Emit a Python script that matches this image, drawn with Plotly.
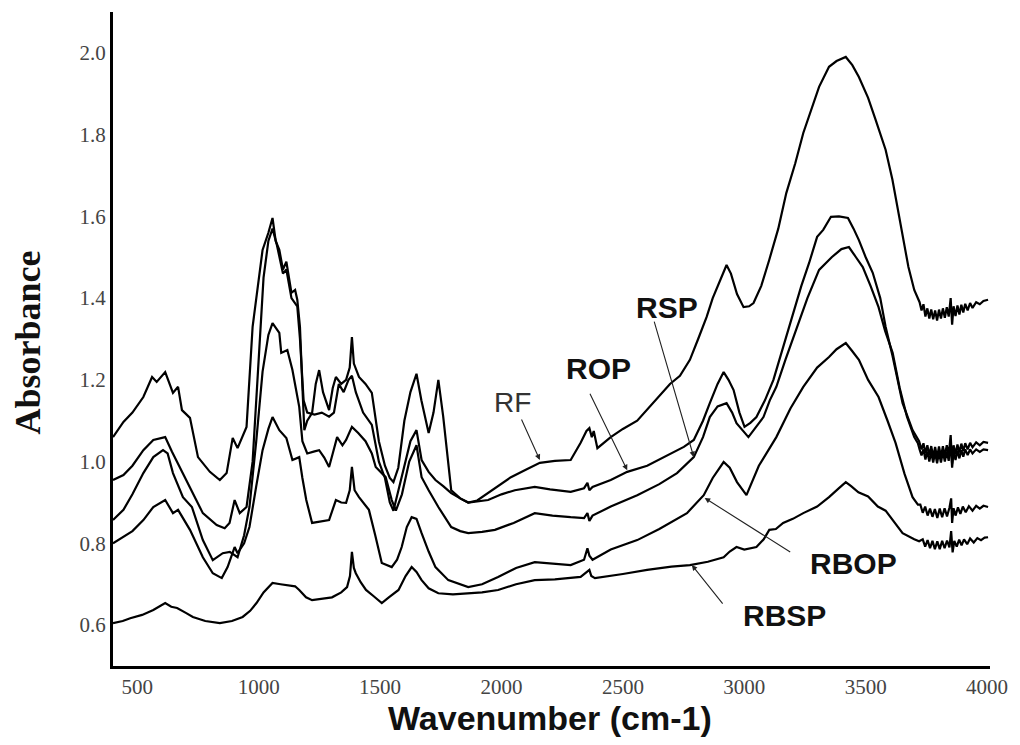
import plotly.graph_objects as go

# ---------------- data ----------------
rf_x = [400, 443, 480, 525, 561, 580, 615, 647, 668, 684, 717, 750, 799, 840, 868, 893, 913, 950, 975, 1000,
        1016, 1040, 1057, 1070, 1085, 1100, 1114, 1135, 1150, 1159, 1170, 1180, 1188, 1200, 1220, 1235, 1249,
        1265, 1290, 1305, 1318, 1340, 1360, 1375, 1384, 1392, 1413, 1440, 1466, 1495, 1520, 1540, 1555, 1575,
        1600, 1625, 1650, 1670, 1700, 1720, 1740, 1760, 1793, 1830, 1863, 1900, 1945, 2000, 2039, 2100, 2158,
        2220, 2285, 2326, 2350, 2362, 2372, 2380, 2395, 2450, 2500, 2559, 2620, 2694, 2735, 2776, 2810, 2845,
        2870, 2895, 2927, 2945, 2970, 2997, 3020, 3038, 3070, 3103, 3140, 3173, 3210, 3243, 3275, 3308, 3349,
        3380, 3418, 3445, 3472, 3510, 3541, 3582, 3610, 3635, 3655, 3676, 3700, 3717,
        3722, 3730, 3738, 3746, 3754, 3762, 3770, 3778, 3786, 3794, 3802, 3810, 3818, 3826, 3834, 3842, 3850,
        3856, 3862, 3870, 3878, 3886, 3894, 3902, 3910, 3920, 3930, 3940, 3955, 3970, 3985, 4004]
rf_y = [1.060, 1.097, 1.120, 1.158, 1.207, 1.195, 1.219, 1.168, 1.183, 1.126, 1.107, 1.011, 0.975, 0.955, 0.972,
        1.058, 1.033, 1.085, 1.330, 1.450, 1.518, 1.560, 1.596, 1.540, 1.518, 1.470, 1.489, 1.413, 1.420, 1.396,
        1.330, 1.183, 1.077, 1.100, 1.119, 1.190, 1.224, 1.170, 1.126, 1.180, 1.207, 1.190, 1.200, 1.230, 1.305,
        1.240, 1.207, 1.190, 1.168, 1.050, 0.990, 0.960, 0.950, 0.985, 1.100, 1.170, 1.215, 1.150, 1.070, 1.120,
        1.200, 1.110, 0.930, 0.910, 0.900, 0.905, 0.923, 0.945, 0.962, 0.980, 0.997, 1.002, 1.004, 1.046, 1.075,
        1.082, 1.060, 1.075, 1.033, 1.060, 1.080, 1.100, 1.140, 1.190, 1.210, 1.249, 1.300, 1.354, 1.400, 1.437,
        1.481, 1.460, 1.410, 1.378, 1.380, 1.388, 1.430, 1.494, 1.570, 1.657, 1.730, 1.804, 1.860, 1.917, 1.966,
        1.980, 1.990, 1.970, 1.941, 1.890, 1.836, 1.763, 1.690, 1.609, 1.540, 1.476, 1.420, 1.396,
        1.390, 1.370, 1.385, 1.355, 1.375, 1.350, 1.372, 1.348, 1.370, 1.345, 1.372, 1.350, 1.375, 1.352, 1.378,
        1.355, 1.400, 1.335, 1.380, 1.356, 1.382, 1.360, 1.384, 1.365, 1.386, 1.370, 1.388, 1.376, 1.390, 1.385,
        1.393, 1.396]

rop_x = [400, 443, 480, 525, 566, 615, 643, 676, 717, 770, 827, 860, 880, 901, 922, 950, 975, 1000, 1020, 1040,
         1057, 1075, 1100, 1114, 1135, 1159, 1170, 1185, 1200, 1230, 1260, 1290, 1310, 1330, 1350, 1370, 1384,
         1400, 1430, 1466, 1495, 1520, 1540, 1555, 1575, 1600, 1625, 1650, 1671, 1700, 1728, 1760, 1793, 1830,
         1863, 1945, 2000, 2055, 2137, 2200, 2285, 2340, 2354, 2362, 2375, 2450, 2518, 2600, 2680, 2751, 2792,
         2830, 2858, 2890, 2915, 2935, 2956, 2980, 3001, 3025, 3050, 3085, 3120, 3160, 3202, 3235, 3267, 3300,
         3325, 3357, 3390, 3427, 3450, 3472, 3500, 3529, 3560, 3582, 3610, 3652, 3693, 3720,
         3730, 3738, 3746, 3754, 3762, 3770, 3778, 3786, 3794, 3802, 3810, 3818, 3826, 3834, 3842, 3850, 3856,
         3862, 3870, 3878, 3886, 3894, 3902, 3910, 3920, 3930, 3940, 3955, 3970, 3985, 4004]
rop_y = [0.955, 0.967, 0.990, 1.028, 1.053, 1.060, 1.024, 0.984, 0.938, 0.874, 0.845, 0.837, 0.850, 0.906, 0.874,
         0.889, 1.000, 1.250, 1.450, 1.540, 1.570, 1.530, 1.460, 1.470, 1.400, 1.380, 1.300, 1.150, 1.120, 1.115,
         1.120, 1.110, 1.120, 1.190, 1.170, 1.200, 1.210, 1.170, 1.120, 1.090, 1.000, 0.960, 0.900, 0.880, 0.930,
         0.990, 1.050, 1.077, 1.004, 0.975, 0.955, 0.940, 0.923, 0.910, 0.900, 0.906, 0.920, 0.930, 0.938, 0.932,
         0.926, 0.935, 0.948, 0.930, 0.938, 0.955, 0.975, 0.990, 1.015, 1.036, 1.053, 1.100, 1.143, 1.190, 1.219,
         1.200, 1.175, 1.120, 1.085, 1.095, 1.109, 1.150, 1.200, 1.280, 1.364, 1.430, 1.486, 1.550, 1.567, 1.599,
         1.600, 1.596, 1.570, 1.542, 1.500, 1.462, 1.400, 1.330, 1.260, 1.143, 1.077, 1.050,
         1.030, 1.045, 1.020, 1.040, 1.015, 1.038, 1.012, 1.036, 1.010, 1.037, 1.012, 1.038, 1.014, 1.040, 1.016,
         1.065, 0.995, 1.040, 1.018, 1.042, 1.022, 1.044, 1.026, 1.045, 1.030, 1.046, 1.035, 1.047, 1.040, 1.048,
         1.046]

rsp_x = [400, 443, 480, 525, 566, 606, 625, 647, 688, 725, 770, 811, 852, 881, 913, 940, 962, 990, 1016, 1040,
         1057, 1085, 1093, 1118, 1139, 1167, 1180, 1200, 1230, 1249, 1270, 1290, 1305, 1323, 1345, 1360, 1384,
         1410, 1440, 1466, 1482, 1523, 1548, 1565, 1590, 1620, 1650, 1671, 1700, 1740, 1793, 1830, 1863, 1920,
         1973, 2050, 2137, 2210, 2285, 2340, 2354, 2362, 2375, 2450, 2559, 2650, 2723, 2792, 2830, 2858, 2890,
         2927, 2950, 2968, 3017, 3050, 3079, 3105, 3132, 3170, 3214, 3260, 3308, 3360, 3400, 3431, 3460, 3488,
         3520, 3553, 3580, 3611, 3640, 3670, 3700,
         3715, 3722, 3730, 3738, 3746, 3754, 3762, 3770, 3778, 3786, 3794, 3802, 3810, 3818, 3826, 3834, 3842,
         3850, 3856, 3862, 3870, 3878, 3886, 3894, 3902, 3910, 3920, 3930, 3940, 3955, 3970, 3985, 4004]
rsp_y = [0.857, 0.882, 0.920, 0.972, 1.011, 1.028, 1.020, 0.972, 0.913, 0.889, 0.808, 0.759, 0.776, 0.779, 0.766,
         0.820, 0.889, 1.050, 1.220, 1.310, 1.339, 1.315, 1.266, 1.273, 1.224, 1.134, 1.050, 1.020, 1.025, 1.028,
         1.010, 0.987, 1.020, 1.060, 1.040, 1.053, 1.085, 1.070, 1.050, 1.020, 0.987, 0.962, 0.906, 0.880, 0.920,
         1.000, 1.040, 0.962, 0.930, 0.889, 0.840, 0.830, 0.825, 0.828, 0.833, 0.850, 0.874, 0.868, 0.864, 0.862,
         0.874, 0.855, 0.868, 0.890, 0.918, 0.945, 0.972, 1.011, 1.060, 1.109, 1.135, 1.143, 1.120, 1.094, 1.060,
         1.085, 1.109, 1.150, 1.183, 1.250, 1.322, 1.400, 1.469, 1.500, 1.520, 1.525, 1.500, 1.476, 1.430, 1.378,
         1.320, 1.266, 1.180, 1.110, 1.060,
         1.045, 1.030, 1.015, 1.030, 1.005, 1.025, 1.000, 1.023, 0.998, 1.022, 0.996, 1.022, 0.998, 1.024, 1.000,
         1.025, 1.002, 1.050, 0.985, 1.025, 1.004, 1.027, 1.008, 1.028, 1.012, 1.030, 1.016, 1.030, 1.020, 1.030,
         1.024, 1.030, 1.028]

rbop_x = [400, 443, 480, 525, 566, 615, 647, 668, 717, 770, 811, 848, 872, 901, 913, 940, 962, 990, 1016, 1040,
          1057, 1085, 1114, 1139, 1167, 1180, 1196, 1220, 1250, 1290, 1318, 1340, 1360, 1375, 1384, 1395, 1413,
          1454, 1480, 1507, 1548, 1570, 1589, 1610, 1630, 1650, 1671, 1700, 1728, 1781, 1863, 1920, 1986, 2060,
          2137, 2210, 2285, 2340, 2354, 2362, 2375, 2450, 2559, 2650, 2764, 2833, 2870, 2915, 2940, 2970, 3009,
          3060, 3132, 3190, 3243, 3300, 3349, 3380, 3418, 3445, 3472, 3510, 3553, 3590, 3623, 3660, 3693, 3715,
          3725, 3735, 3745, 3755, 3765, 3775, 3785, 3795, 3805, 3815, 3825, 3835, 3845, 3852, 3856, 3862, 3870,
          3880, 3890, 3900, 3912, 3925, 3940, 3955, 3970, 3985, 4004]
rbop_y = [0.800, 0.815, 0.830, 0.857, 0.889, 0.906, 0.874, 0.882, 0.833, 0.766, 0.727, 0.715, 0.742, 0.791, 0.776,
          0.800, 0.840, 0.940, 1.028, 1.080, 1.109, 1.077, 1.058, 1.004, 1.011, 0.960, 0.906, 0.850, 0.853, 0.857,
          0.906, 0.900, 0.899, 0.930, 0.987, 0.930, 0.913, 0.882, 0.820, 0.752, 0.742, 0.760, 0.791, 0.840, 0.864,
          0.860, 0.825, 0.780, 0.742, 0.710, 0.693, 0.700, 0.718, 0.740, 0.754, 0.750, 0.747, 0.760, 0.788, 0.770,
          0.760, 0.785, 0.808, 0.835, 0.874, 0.918, 0.960, 0.999, 0.985, 0.950, 0.918, 0.990, 1.060, 1.130, 1.183,
          1.230, 1.256, 1.275, 1.290, 1.270, 1.249, 1.200, 1.158, 1.100, 1.046, 0.970, 0.913, 0.895,
          0.895, 0.875, 0.890, 0.868, 0.885, 0.865, 0.884, 0.862, 0.885, 0.864, 0.886, 0.866, 0.887, 0.910, 0.850,
          0.886, 0.868, 0.888, 0.872, 0.890, 0.876, 0.891, 0.880, 0.892, 0.885, 0.892, 0.889]

rbsp_x = [400, 440, 471, 520, 566, 615, 640, 664, 700, 729, 780, 840, 890, 934, 965, 991, 1020, 1057, 1090, 1126,
          1150, 1167, 1195, 1220, 1260, 1302, 1340, 1364, 1376, 1384, 1392, 1400, 1420, 1442, 1475, 1507, 1536,
          1576, 1605, 1630, 1650, 1671, 1700, 1740, 1800, 1863, 1920, 1986, 2060, 2137, 2220, 2326, 2350, 2362,
          2370, 2385, 2500, 2600, 2700, 2776, 2850, 2915, 2940, 2968, 3000, 3050, 3080, 3103, 3130, 3160, 3200,
          3243, 3300, 3349, 3390, 3418, 3440, 3470, 3510, 3550, 3582, 3615, 3652, 3700, 3720,
          3735, 3745, 3755, 3765, 3775, 3785, 3795, 3805, 3815, 3825, 3835, 3845, 3852, 3858, 3865, 3875, 3885,
          3895, 3905, 3918, 3930, 3945, 3960, 3975, 3990, 4004]
rbsp_y = [0.605, 0.610, 0.617, 0.625, 0.637, 0.654, 0.645, 0.642, 0.630, 0.620, 0.610, 0.605, 0.610, 0.620, 0.635,
          0.654, 0.680, 0.703, 0.700, 0.698, 0.695, 0.686, 0.668, 0.661, 0.664, 0.668, 0.680, 0.693, 0.720, 0.779,
          0.740, 0.727, 0.705, 0.686, 0.670, 0.654, 0.668, 0.686, 0.720, 0.742, 0.730, 0.710, 0.690, 0.678, 0.675,
          0.678, 0.680, 0.686, 0.700, 0.710, 0.712, 0.718, 0.730, 0.735, 0.720, 0.715, 0.725, 0.735, 0.743, 0.747,
          0.755, 0.766, 0.780, 0.791, 0.785, 0.791, 0.810, 0.833, 0.835, 0.850, 0.860, 0.874, 0.890, 0.913, 0.935,
          0.950, 0.940, 0.925, 0.915, 0.890, 0.880, 0.855, 0.825, 0.810, 0.805,
          0.810, 0.792, 0.808, 0.788, 0.806, 0.786, 0.805, 0.786, 0.806, 0.788, 0.807, 0.790, 0.830, 0.778, 0.806,
          0.792, 0.809, 0.795, 0.810, 0.798, 0.812, 0.802, 0.813, 0.808, 0.814, 0.815]

x_ticks = [500, 1000, 1500, 2000, 2500, 3000, 3500, 4000]
y_ticks = [0.6, 0.8, 1.0, 1.2, 1.4, 1.6, 1.8, 2.0]
y_tick_text = ["0.6", "0.8", "1.0", "1.2", "1.4", "1.6", "1.8", "2.0"]

# label: (text, tip x, tip y, bold)
labels = [
    ("RF", 2158, 1.004, False),
    ("ROP", 2518, 0.979, True),
    ("RSP", 2792, 1.011, True),
    ("RBOP", 2837, 0.911, True),
    ("RBSP", 2784, 0.747, True),
]

# ---------------- figure ----------------
fig = go.Figure()
for xs, ys, name in [(rf_x, rf_y, "RF"), (rop_x, rop_y, "ROP"), (rsp_x, rsp_y, "RSP"),
                     (rbop_x, rbop_y, "RBOP"), (rbsp_x, rbsp_y, "RBSP")]:
    fig.add_trace(go.Scatter(x=xs, y=ys, mode="lines", name=name,
                             line=dict(color="black", width=2.2),
                             showlegend=False, hoverinfo="x+y+name"))

# arrow tail offsets (pixels, relative to tip) and text centres (pixels)
arrow_tail = {"RF": (-19, -42), "ROP": (-38, -78), "RSP": (-40, -137), "RBOP": (87, 55), "RBSP": (32, 40)}
text_pos = {"RF": (515, 402), "ROP": (601, 368), "RSP": (670, 307), "RBOP": (858, 563), "RBSP": (788, 615)}

L, R, T, B = 113, 25, 12, 79
W, H = 1020, 745
pw, ph = W - L - R, H - T - B

for name, tx, ty, bold in labels:
    ax, ay = arrow_tail[name]
    fig.add_annotation(x=tx, y=ty, xref="x", yref="y", text="", showarrow=True,
                       ax=ax, ay=ay, arrowhead=2, arrowsize=1.0, arrowwidth=1.1,
                       arrowcolor="#222222", standoff=0, startstandoff=0)
    px, py = text_pos[name]
    fig.add_annotation(x=(px - L) / pw, y=(H - B - py) / ph, xref="paper", yref="paper",
                       text=("<b>%s</b>" % name) if bold else name, showarrow=False,
                       xanchor="center", yanchor="middle",
                       font=dict(family="Liberation Sans, Arial, sans-serif",
                                 size=30 if bold else 28,
                                 color="#111111" if bold else "#333333"))

# axis titles
fig.add_annotation(x=(552 - L) / pw, y=(H - B - 718) / ph, xref="paper", yref="paper",
                   text="<b>Wavenumber (cm-1)</b>", showarrow=False, xanchor="center", yanchor="middle",
                   font=dict(family="Liberation Sans, Arial, sans-serif", size=34, color="#111111"))
fig.add_annotation(x=(28 - L) / pw, y=(H - B - 342) / ph, xref="paper", yref="paper",
                   text="<b>Absorbance</b>", showarrow=False, xanchor="center", yanchor="middle",
                   textangle=-90,
                   font=dict(family="Liberation Serif, Times New Roman, serif", size=36, color="#111111"))

fig.update_xaxes(range=[400, 4012], tickvals=x_ticks, ticks="", showgrid=False, zeroline=False,
                 showline=True, linecolor="black", linewidth=3,
                 tickfont=dict(family="Liberation Serif, Times New Roman, serif", size=21, color="#444444"))
fig.update_yaxes(range=[0.5, 2.1], tickvals=y_ticks, ticktext=y_tick_text, ticks="", showgrid=False,
                 zeroline=False, showline=True, linecolor="black", linewidth=3,
                 tickfont=dict(family="Liberation Serif, Times New Roman, serif", size=21, color="#444444"))

fig.update_layout(width=W, height=H, margin=dict(l=L, r=R, t=T, b=B),
                  plot_bgcolor="white", paper_bgcolor="white", showlegend=False)

fig.write_html("out.html")
